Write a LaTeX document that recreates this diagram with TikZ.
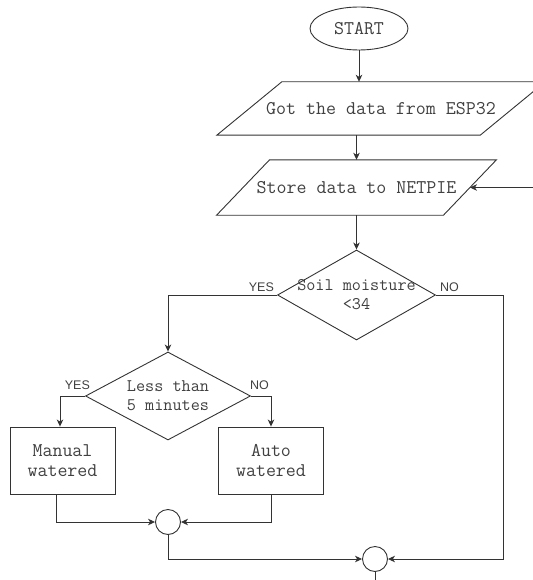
\documentclass[tikz,border=0pt]{standalone}
\usepackage{fontspec}
\newfontfamily\labelfont{Liberation Sans}
\usetikzlibrary{arrows.meta,shapes.geometric}
\definecolor{linegray}{HTML}{333333}
\definecolor{textgray}{HTML}{404040}

\begin{document}
\begin{tikzpicture}[x=1bp,y=-1bp,
    wire/.style={draw=linegray, line width=0.9bp},
    flow/.style={wire, -{Stealth[length=7bp,width=6.5bp,inset=2bp]}},
    txt/.style={text=textgray, font=\ttfamily\fontsize{19.4bp}{20bp}\selectfont, align=center, inner sep=0pt},
    dectxt/.style={txt, font=\ttfamily\fontsize{17.7bp}{19bp}\selectfont},
    yesno/.style={text=textgray, font=\labelfont\fontsize{12.5bp}{14bp}\selectfont, inner sep=0pt},
    terminal/.style={txt, wire, ellipse, minimum width=98bp, minimum height=43bp},
    iobox/.style={txt, minimum height=53bp},
    decision/.style={wire, diamond, inner sep=0pt},
    process/.style={txt, wire, rectangle, minimum width=105bp, minimum height=67bp},
    junction/.style={wire, circle, minimum size=25bp, inner sep=0pt}]
    \useasboundingbox (0,0) rectangle (533,580);
    \clip (0,0) rectangle (533,580);
    % Shapes
    \node[terminal] (start) at (359,28.5) {START};
    \node[iobox, minimum width=263bp] (got) at (381,108.5) {Got the data from ESP32};
    \node[iobox, minimum width=226.5bp, minimum height=55bp] (store) at (356.5,187.5) {Store data to NETPIE};
    \draw[wire] ([xshift=-32.5bp]got.south west) -- ([xshift=-32.5bp]got.south east)
        -- ([xshift=32.5bp]got.north east) -- ([xshift=32.5bp]got.north west) -- cycle;
    \draw[wire] ([xshift=-26.5bp]store.south west) -- ([xshift=-26.5bp]store.south east)
        -- ([xshift=26.5bp]store.north east) -- ([xshift=26.5bp]store.north west) -- cycle;
    \node[decision, minimum width=158bp, minimum height=90bp] (soil) at (356.5,295) {};
    \node[dectxt] (soiltxt) at (soil) {Soil moisture\\<34};
    \node[decision, minimum width=165bp, minimum height=88bp] (less) at (168,396) {};
    \node[dectxt] (lesstxt) at (less) {Less than\\5 minutes};
    \node[process] (manual) at (62.5,460.5) {Manual\\watered};
    \node[process] (auto) at (271,460.5) {Auto\\watered};
    \node[junction] (joinA) at (168,522) {};
    \node[junction] (joinB) at (375,559) {};
    \coordinate (loopin) at (533,187.5);
    \coordinate (noturn) at (503,559);
    \coordinate (finish) at (375,580);
    % Arrows
    \draw[flow] (start) -- (start |- got.north);
    \draw[flow] (got.south -| store.north) -- (store.north);
    \draw[flow] (loopin) -- (store.east);
    \draw[flow] (store) -- (soil);
    \draw[flow] (soil.west) -| (less.north);
    \draw[flow] (soil.east) -| (noturn) -- (joinB.east);
    \draw[flow] (less.west) -| ([xshift=-2.5bp]manual.north);
    \draw[flow] (less.east) -| (auto.north);
    \draw[flow] ([xshift=-6.5bp]manual.south) |- (joinA.west);
    \draw[flow] (auto.south) |- (joinA.east);
    \draw[flow] (joinA.south) |- (joinB.west);
    \draw[wire] (joinB.south) -- (finish);
    % Labels
    \node[yesno, anchor=base east] (soilyes) at ([xshift=-3bp,yshift=4bp]soil.west) {YES};
    \node[yesno, anchor=base west] (soilno) at ([xshift=4bp,yshift=4bp]soil.east) {NO};
    \node[yesno, anchor=base east] (lessyes) at ([xshift=5bp,yshift=6.5bp]less.west) {YES};
    \node[yesno, anchor=base west] (lessno) at ([xshift=-1bp,yshift=6.5bp]less.east) {NO};
\end{tikzpicture}
\end{document}
